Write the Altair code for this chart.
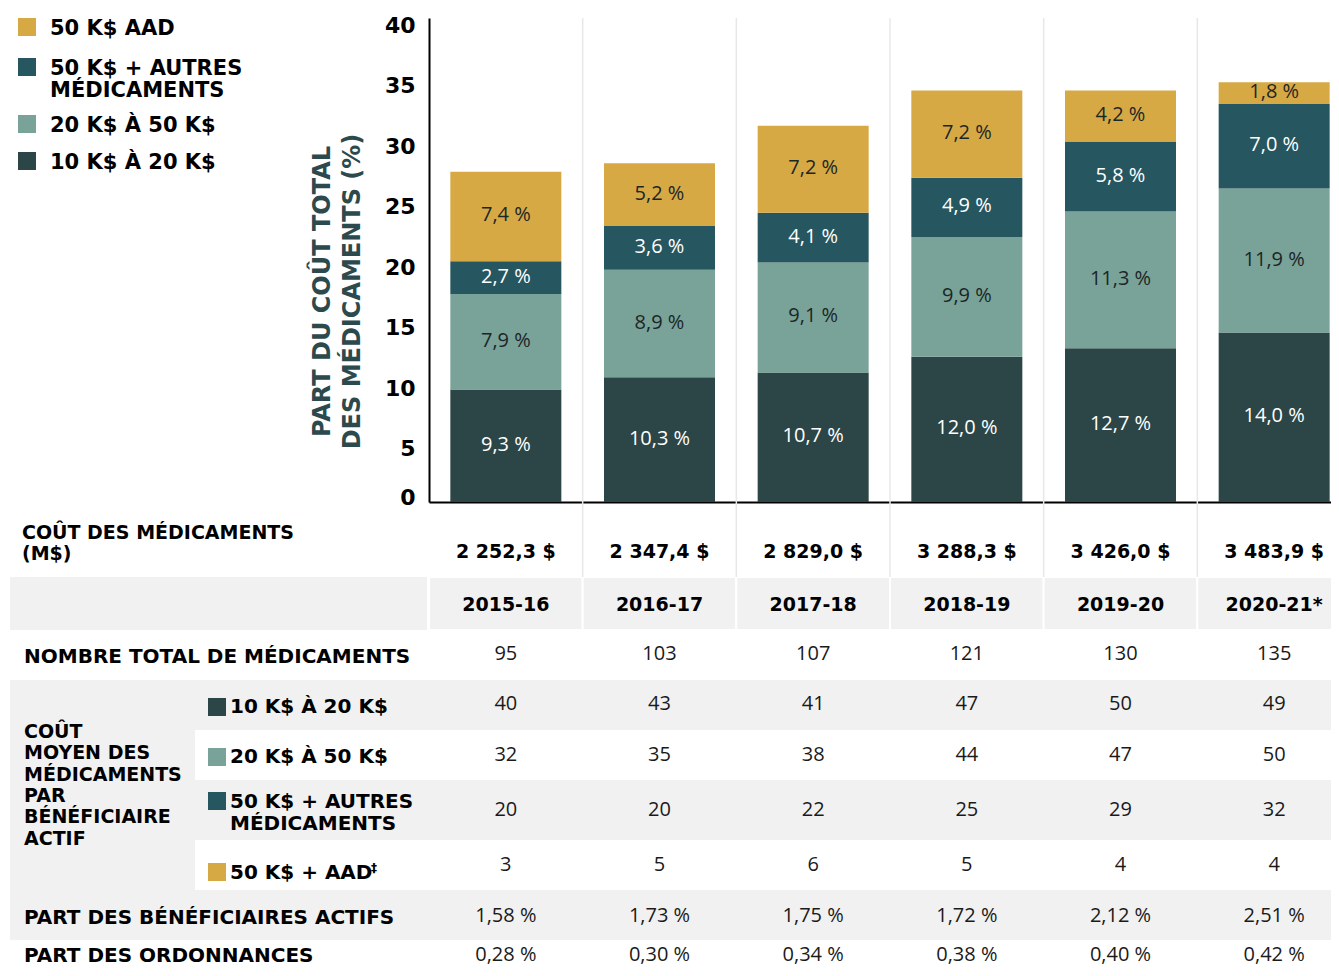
import altair as alt
import pandas as pd

# ---------------- data ----------------
years = ["2015-16", "2016-17", "2017-18", "2018-19", "2019-20", "2020-21*"]
series = ["10 K$ À 20 K$", "20 K$ À 50 K$", "50 K$ + AUTRES MÉDICAMENTS", "50 K$ AAD"]
share_10_20 = [9.3, 10.3, 10.7, 12.0, 12.7, 14.0]
share_20_50 = [7.9, 8.9, 9.1, 9.9, 11.3, 11.9]
share_50_autres = [2.7, 3.6, 4.1, 4.9, 5.8, 7.0]
share_50_aad = [7.4, 5.2, 7.2, 7.2, 4.2, 1.8]
drug_cost = [2252.3, 2347.4, 2829.0, 3288.3, 3426.0, 3483.9]
n_drugs = [95, 103, 107, 121, 130, 135]
avg_10_20 = [40, 43, 41, 47, 50, 49]
avg_20_50 = [32, 35, 38, 44, 47, 50]
avg_50_autres = [20, 20, 22, 25, 29, 32]
avg_50_aad = [3, 5, 6, 5, 4, 4]
part_benef = [1.58, 1.73, 1.75, 1.72, 2.12, 2.51]
part_ord = [0.28, 0.30, 0.34, 0.38, 0.40, 0.42]
y_ticks = [0, 5, 10, 15, 20, 25, 30, 35, 40]

# ---------------- styles ----------------
colors = ["#2C4647", "#79A398", "#26565F", "#D6A945"]
GRAY = "#F1F1F1"
HEAD_FONT = "DejaVu Sans"
VAL_FONT = "Open Sans"

# ---------------- layout (pixels) ----------------
ORIGIN_X = 429
BASE_Y = 502
COLW = 922 / 6
PLOT_W = 902


def xu(px):
    return (px - ORIGIN_X) / COLW


def tu(px):
    return px - BASE_Y


def fr1(v):
    return f"{v:.1f}".replace(".", ",") + "\u00a0%"


def fr2(v):
    return f"{v:.2f}".replace(".", ",") + "\u00a0%"


def frc(v):
    return f"{v:,.1f}".replace(",", "\u00a0").replace(".", ",") + "\u00a0$"


xscale = alt.Scale(domain=[0, PLOT_W / COLW], nice=False, zero=False, padding=0)
yscale = alt.Scale(domain=[0, 40], nice=False, padding=0)
tscale = alt.Scale(domain=[0, 474], range=[484, 958], nice=False, zero=False, padding=0)
cscale = alt.Scale(domain=series, range=colors)

x_axis = alt.Axis(title=None, labels=False, ticks=False, grid=False,
                  domain=True, domainColor="#000000", domainWidth=2)

y_axis = alt.Axis(
    title=["PART DU COÛT TOTAL", "DES MÉDICAMENTS (%)"],
    values=y_ticks, grid=False, ticks=False, tickSize=0,
    domainColor="#000000", domainWidth=2,
    labelFont=HEAD_FONT, labelFontWeight="bold", labelFontSize=22,
    labelColor="#000000", labelPadding=14,
    labelOffset={"condition": {"test": "datum.value === 0", "value": -5}, "value": 7},
    titleFont=HEAD_FONT, titleFontWeight="bold", titleFontSize=24,
    titleColor="#2C4A4D", titleX=-107, titleY=273, titleAngle=-90,
    titleAlign="center", titleBaseline="middle", titleLineHeight=30,
)


def X(field):
    return alt.X(field, type="quantitative", scale=xscale, axis=x_axis)


def T(field):
    return alt.Y(field, type="quantitative", scale=tscale, axis=None)


# ---------------- bars ----------------
rows = []
for i, yr in enumerate(years):
    vals = [share_10_20[i], share_20_50[i], share_50_autres[i], share_50_aad[i]]
    base = 0.0
    for k, (s, v) in enumerate(zip(series, vals)):
        rows.append(dict(year=yr, xc=i + 0.5, series=s, y0=base, y1=base + v,
                         mid=base + v / 2, label=fr1(v), light=(k in (0, 2))))
        base += v
df_bars = pd.DataFrame(rows)

bars = alt.Chart(df_bars).mark_bar(width=111).encode(
    x=X("xc"),
    y=alt.Y("y0:Q", scale=yscale, axis=y_axis),
    y2="y1:Q",
    color=alt.Color("series:N", scale=cscale, legend=None),
)
lab_white = alt.Chart(df_bars[df_bars.light]).mark_text(
    font=VAL_FONT, fontSize=20, color="#FFFFFF", align="center", baseline="middle", dy=-1
).encode(x=X("xc"), y=alt.Y("mid:Q", scale=yscale, axis=y_axis), text="label:N")
lab_dark = alt.Chart(df_bars[~df_bars.light]).mark_text(
    font=VAL_FONT, fontSize=20, color="#1C2626", align="center", baseline="middle", dy=-1
).encode(x=X("xc"), y=alt.Y("mid:Q", scale=yscale, axis=y_axis), text="label:N")
bar_group = alt.layer(bars, lab_white, lab_dark)

# ---------------- table background ----------------
rects = [
    (xu(10), xu(427), 75, 128),
    (xu(10), 6.2, tu(680), tu(730)),
    (xu(10), 6.2, tu(780), tu(840)),
    (xu(10), 6.2, tu(890), tu(940)),
    (xu(10), xu(195), tu(680), tu(890)),
]
df_rects = pd.DataFrame(rects, columns=["x0", "x1", "t0", "t1"])
bg = alt.Chart(df_rects).mark_rect(color=GRAY).encode(
    x=X("x0"), x2="x1", y=T("t0"), y2="t1")

df_head = pd.DataFrame({"x0": list(range(6)), "x1": [i + 1 for i in range(6)],
                        "t0": [75] * 6, "t1": [128] * 6})
head_cells = alt.Chart(df_head).mark_rect(color=GRAY, stroke="#FFFFFF", strokeWidth=2).encode(
    x=X("x0"), x2="x1", y=T("t0"), y2="t1")

df_grid = pd.DataFrame({"xb": [1, 2, 3, 4, 5], "t0": [tu(18)] * 5, "t1": [75] * 5})
grid = alt.Chart(df_grid).mark_rule(color="#E8E8E8", strokeWidth=1.5).encode(
    x=X("xb"), y=T("t0"), y2="t1")

back = alt.layer(bg, head_cells, grid)

# ---------------- table text ----------------
# (texts, centre y in px, bold, font size)
val_rows = [
    ([frc(v) for v in drug_cost], 551, True, 19),
    (years, 604, True, 19),
    ([str(v) for v in n_drugs], 653, False, 20),
    ([str(v) for v in avg_10_20], 703, False, 20),
    ([str(v) for v in avg_20_50], 754, False, 20),
    ([str(v) for v in avg_50_autres], 809, False, 20),
    ([str(v) for v in avg_50_aad], 864, False, 20),
    ([fr2(v) for v in part_benef], 915, False, 20),
    ([fr2(v) for v in part_ord], 954, False, 20),
]
vrows = []
for texts, ypx, bold, size in val_rows:
    for i, t in enumerate(texts):
        vrows.append(dict(xc=i + 0.5, t=tu(ypx + 0.36 * size), txt=t, bold=bold, size=size))
df_vals = pd.DataFrame(vrows)

layers_front = []
for (bold, size), sub in df_vals.groupby(["bold", "size"]):
    layers_front.append(
        alt.Chart(sub).mark_text(
            font=HEAD_FONT if bold else VAL_FONT,
            fontWeight="bold" if bold else "normal",
            fontSize=int(size), color="#000000" if bold else "#1A1A1A",
            align="center", baseline="alphabetic",
        ).encode(x=X("xc"), y=T("t"), text="txt:N")
    )

# (lines, left x px, centre y of first line px, font size, line height)
labels = [
    (["COÛT DES MÉDICAMENTS", "(M$)"], 22, 532, 19, 21),
    (["NOMBRE TOTAL DE MÉDICAMENTS"], 24, 656, 20, 21),
    (["COÛT", "MOYEN DES", "MÉDICAMENTS", "PAR", "BÉNÉFICIAIRE", "ACTIF"], 24, 731, 19, 21.4),
    (["10 K$ À 20 K$"], 230, 706, 20, 22),
    (["20 K$ À 50 K$"], 230, 756, 20, 22),
    (["50 K$ + AUTRES", "\u2009MÉDICAMENTS"], 230, 801, 20, 22),
    (["50 K$ + AAD"], 230, 872, 20, 22),
    (["PART DES BÉNÉFICIAIRES ACTIFS"], 24, 917, 20, 22),
    (["PART DES ORDONNANCES"], 24, 955, 20, 22),
    (["50 K$ AAD"], 50, 27, 21, 22),
    (["50 K$ + AUTRES", "MÉDICAMENTS"], 50, 67, 21, 22),
    (["20 K$ À 50 K$"], 50, 124, 21, 22),
    (["10 K$ À 20 K$"], 50, 161, 21, 22),
    (["‡"], 371, 868, 12, 12),
]
df_lab = pd.DataFrame([dict(txt=lines, x=xu(x), t=tu(y + 0.36 * s), size=s, lh=lh)
                       for lines, x, y, s, lh in labels])
for (size, lh), sub in df_lab.groupby(["size", "lh"]):
    layers_front.append(
        alt.Chart(sub).mark_text(
            font=HEAD_FONT, fontWeight="bold", fontSize=int(size), lineHeight=float(lh),
            color="#000000", align="left", baseline="alphabetic",
        ).encode(x=X("x"), y=T("t"), text="txt:N")
    )

# legend swatches (chart legend + table swatches)
swatches = [
    (series[3], 27, 27), (series[2], 27, 67), (series[1], 27, 124), (series[0], 27, 161),
    (series[0], 217, 707), (series[1], 217, 757), (series[2], 217, 801), (series[3], 217, 872),
]
df_sw = pd.DataFrame([dict(series=s, x=xu(a), t=tu(b)) for s, a, b in swatches])
layers_front.append(
    alt.Chart(df_sw).mark_square(size=324, opacity=1).encode(
        x=X("x"), y=T("t"), color=alt.Color("series:N", scale=cscale, legend=None))
)
front = alt.layer(*layers_front)

chart = alt.layer(back, bar_group, front).resolve_scale(y="independent").properties(
    width=PLOT_W, height=484, autosize="none",
    padding={"left": 421, "top": 10, "right": 0, "bottom": 466},
    background="white",
).configure_view(stroke=None)

chart.save("out.html", embed_options={"renderer": "svg", "actions": False})
